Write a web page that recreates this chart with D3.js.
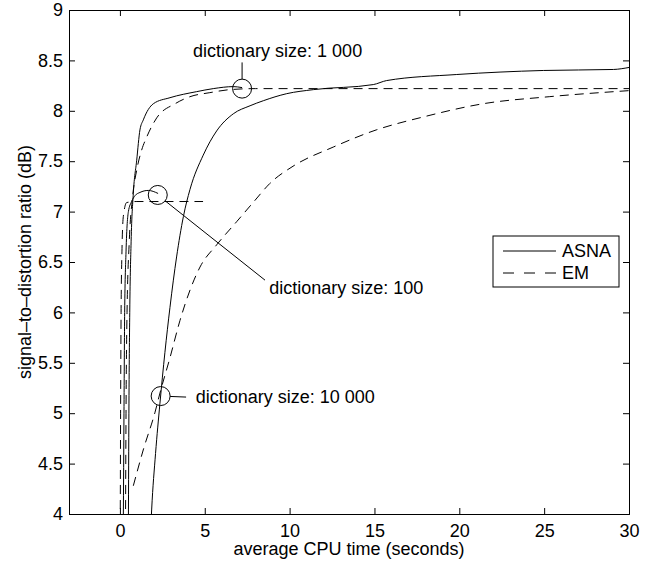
<!DOCTYPE html>
<html>
<head>
<meta charset="utf-8">
<script src="https://cdn.jsdelivr.net/npm/d3@7"></script>
<style>
  body { margin: 0; background: #fff; }
  svg text { font-family: "Liberation Sans", Arial, sans-serif; font-size: 18px; fill: #000; }
</style>
</head>
<body>
<div id="chart"></div>
<script>
// values
const xTicks = [0, 5, 10, 15, 20, 25, 30];
const yTicks = [4, 4.5, 5, 5.5, 6, 6.5, 7, 7.5, 8, 8.5, 9];

const asna100 = [[0.2, 3.9], [0.24, 5.0], [0.28, 6.0], [0.36, 6.6], [0.5, 7.0], [0.69, 7.1], [0.9, 7.16], [1.18, 7.19], [1.67, 7.21], [2.25, 7.18]];
const em100 = [[0.02, 3.9], [0.04, 5.0], [0.07, 6.0], [0.12, 6.6], [0.2, 6.95], [0.4, 7.09], [1.0, 7.1], [4.9, 7.1]];

const asna1000 = [[0.5, 3.9], [0.53, 5.0], [0.58, 6.0], [0.66, 6.7], [0.79, 7.18], [0.99, 7.51], [1.18, 7.81], [1.38, 7.91], [1.97, 8.07], [2.95, 8.13], [4.52, 8.19], [5.5, 8.22], [6.68, 8.24], [7.2, 8.23]];
const em1000 = [[0.33, 3.9], [0.36, 5.0], [0.42, 6.0], [0.55, 6.7], [0.75, 7.15], [1.0, 7.42], [1.28, 7.61], [1.58, 7.74], [2.17, 7.93], [3.25, 8.07], [4.13, 8.14], [5.3, 8.18], [6.49, 8.21], [8.0, 8.22], [30, 8.22]];

const asna10000 = [[1.83, 3.9], [1.87, 4.04], [2.1, 4.6], [2.36, 5.1], [2.65, 5.6], [2.95, 6.05], [3.34, 6.55], [3.74, 6.95], [4.13, 7.22], [4.91, 7.56], [5.7, 7.8], [6.68, 7.97], [7.67, 8.05], [8.45, 8.1], [9.83, 8.17], [11.4, 8.21], [14.93, 8.26], [15.72, 8.3], [19.85, 8.36], [24.95, 8.4], [29.08, 8.41], [30, 8.43]];
const em10000 = [[0.79, 4.28], [1.4, 4.65], [2.07, 5.01], [2.36, 5.2], [2.95, 5.55], [3.54, 5.92], [4.72, 6.45], [5.7, 6.67], [6.88, 6.9], [7.9, 7.1], [8.84, 7.28], [10.2, 7.45], [12.57, 7.64], [15.1, 7.81], [17.9, 7.94], [21.4, 8.07], [25.3, 8.14], [30, 8.2]];

const series = [
  { name: "ASNA", points: asna100, dashed: false },
  { name: "EM", points: em100, dashed: true },
  { name: "ASNA", points: asna1000, dashed: false },
  { name: "EM", points: em1000, dashed: true },
  { name: "ASNA", points: asna10000, dashed: false },
  { name: "EM", points: em10000, dashed: true }
];

// circle centre, end of the leader line, start of the text (data units)
const notes = [
  { label: "dictionary size: 1 000", cx: 7.2, cy: 8.22, lx: 7.2, ly: 8.48, tx: 4.31, ty: 8.6 },
  { label: "dictionary size: 100", cx: 2.23, cy: 7.165, lx: 8.55, ly: 6.32, tx: 8.8, ty: 6.25 },
  { label: "dictionary size: 10 000", cx: 2.4, cy: 5.17, lx: 3.9, ly: 5.16, tx: 4.47, ty: 5.16 }
];

const legendItems = [
  { name: "ASNA", dashed: false },
  { name: "EM", dashed: true }
];

const width = 649, height = 561;
const margin = { left: 69, right: 20, top: 10, bottom: 47 };
const dash = "9,6";
const r = 9.5;

const svg = d3.select("#chart").append("svg")
  .attr("width", width).attr("height", height);

const x = d3.scaleLinear().domain([-3, 30]).range([margin.left, width - margin.right]);
const y = d3.scaleLinear().domain([4, 9]).range([height - margin.bottom, margin.top]);

svg.append("defs").append("clipPath").attr("id", "plot-clip")
  .append("rect")
  .attr("x", x(-3)).attr("y", y(9))
  .attr("width", x(30) - x(-3)).attr("height", y(4) - y(9));

// axes with inward ticks on all four sides
const tickLen = 6;
const axB = svg.append("g").attr("transform", `translate(0,${y(4)})`)
  .call(d3.axisBottom(x).tickValues(xTicks).tickSize(-tickLen).tickPadding(10).tickFormat(d3.format("d")));
const axT = svg.append("g").attr("transform", `translate(0,${y(9)})`)
  .call(d3.axisTop(x).tickValues(xTicks).tickSize(-tickLen).tickFormat(""));
const axL = svg.append("g").attr("transform", `translate(${x(-3)},0)`)
  .call(d3.axisLeft(y).tickValues(yTicks).tickSize(-tickLen).tickPadding(6).tickFormat(d3.format("")));
const axR = svg.append("g").attr("transform", `translate(${x(30)},0)`)
  .call(d3.axisRight(y).tickValues(yTicks).tickSize(-tickLen).tickFormat(""));

[axB, axT, axL, axR].forEach(g => {
  g.selectAll(".domain").attr("stroke", "#000").attr("stroke-width", 1);
  g.selectAll(".tick line").attr("stroke", "#000");
  g.selectAll("text").attr("font-size", null).attr("font-family", null).attr("fill", "#000");
});
axB.selectAll(".tick text").attr("dy", "0.71em");

svg.append("text")
  .attr("x", (x(-3) + x(30)) / 2)
  .attr("y", 555)
  .attr("text-anchor", "middle")
  .text("average CPU time (seconds)");

svg.append("text")
  .attr("transform", `translate(31,${(y(4) + y(9)) / 2}) rotate(-90)`)
  .attr("text-anchor", "middle")
  .text("signal\u2013to\u2013distortion ratio (dB)");

// curves
const line = d3.line()
  .x(d => x(d[0]))
  .y(d => y(d[1]))
  .curve(d3.curveMonotoneX);

const curves = svg.append("g").attr("clip-path", "url(#plot-clip)");
curves.selectAll("path")
  .data(series)
  .enter()
  .append("path")
  .attr("d", d => line(d.points))
  .attr("fill", "none")
  .attr("stroke", "#000")
  .attr("stroke-width", 1)
  .attr("stroke-dasharray", d => d.dashed ? dash : null);

// annotations
const ann = svg.append("g");
notes.forEach(n => {
  const cx = x(n.cx), cy = y(n.cy);
  const ex = x(n.lx), ey = y(n.ly);
  const len = Math.hypot(ex - cx, ey - cy);
  ann.append("circle")
    .attr("cx", cx).attr("cy", cy).attr("r", r)
    .attr("fill", "none").attr("stroke", "#000").attr("stroke-width", 1);
  ann.append("line")
    .attr("x1", cx + (ex - cx) / len * r).attr("y1", cy + (ey - cy) / len * r)
    .attr("x2", ex).attr("y2", ey)
    .attr("stroke", "#000").attr("stroke-width", 1);
  ann.append("text")
    .attr("x", x(n.tx)).attr("y", y(n.ty))
    .attr("dy", "0.35em")
    .text(n.label);
});

// legend
const lg = svg.append("g").attr("transform", "translate(493,236)");
lg.append("rect")
  .attr("width", 126).attr("height", 51)
  .attr("fill", "#fff").attr("stroke", "#000").attr("stroke-width", 1);
legendItems.forEach((d, i) => {
  const ly = 15 + i * 22;
  lg.append("line")
    .attr("x1", 10).attr("x2", 63).attr("y1", ly).attr("y2", ly)
    .attr("stroke", "#000").attr("stroke-width", 1)
    .attr("stroke-dasharray", d.dashed ? "11,10" : null);
  lg.append("text")
    .attr("x", 69).attr("y", ly).attr("dy", "0.35em")
    .text(d.name);
});
</script>
</body>
</html>
